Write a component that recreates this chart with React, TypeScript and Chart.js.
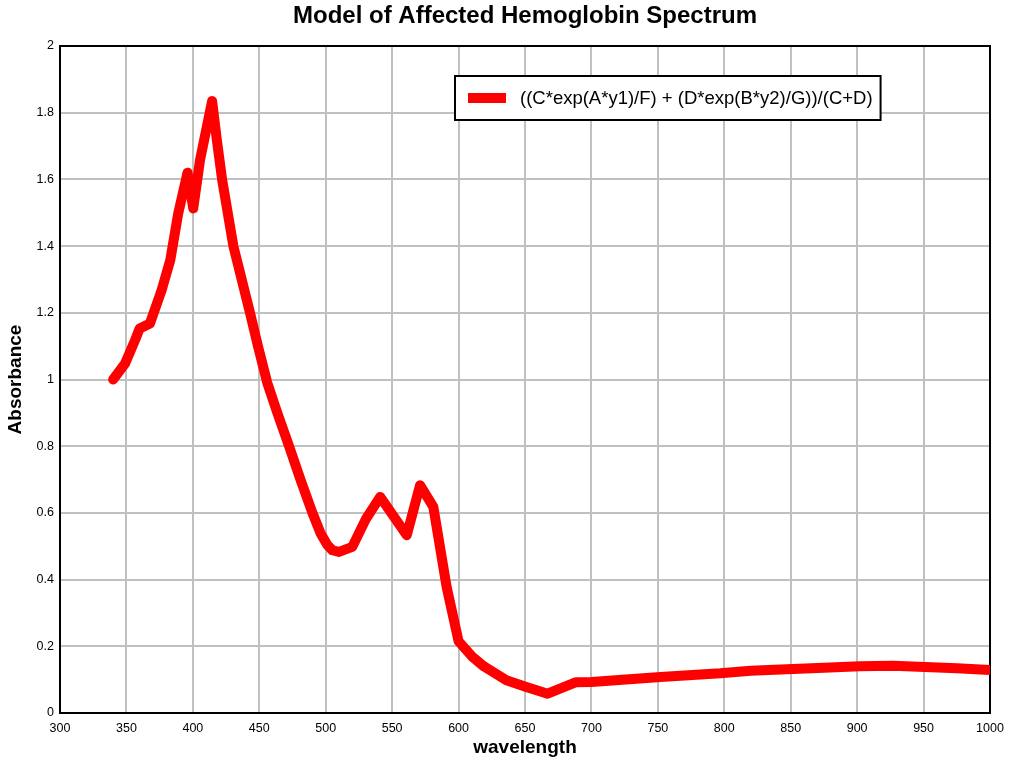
import React, { useEffect, useRef } from "react";
import { Chart, registerables } from "chart.js";

Chart.register(...registerables);

const chartTitle = "Model of Affected Hemoglobin Spectrum";
const xTitle = "wavelength";
const yTitle = "Absorbance";
const seriesLabel = "((C*exp(A*y1)/F) + (D*exp(B*y2)/G))/(C+D)";

const wavelengths = [
  340, 349, 356.5, 360, 367.7, 376.5, 383, 389, 396, 400.3, 405.4, 414.5, 418, 422, 430.5,
  443, 449, 456, 464, 472.4, 481, 490, 496, 501, 505, 510, 520, 530, 541, 561, 571, 581, 591,
  600, 610, 619, 636, 651, 667, 688, 700, 752, 797, 820, 847, 875, 902, 927, 951, 975, 1000,
];
const absorbance = [
  1.0, 1.048, 1.118, 1.153, 1.168, 1.268, 1.358, 1.498, 1.62, 1.513, 1.658, 1.835, 1.72,
  1.6, 1.4, 1.2, 1.1, 0.99, 0.895, 0.8, 0.7, 0.6, 0.54, 0.505, 0.488, 0.483, 0.498, 0.58,
  0.648, 0.533, 0.683, 0.618, 0.378, 0.215, 0.17, 0.14, 0.098, 0.078, 0.058, 0.092, 0.093,
  0.108, 0.119, 0.127, 0.131, 0.136, 0.14, 0.142, 0.138, 0.134, 0.129,
];

const FONT = "Arial, 'Liberation Sans', sans-serif";

const framePlugin = {
  id: "frame",
  beforeDatasetsDraw(chart: any) {
    const { ctx, chartArea: a } = chart;
    ctx.save();
    ctx.strokeStyle = "#000";
    ctx.lineWidth = 2;
    ctx.strokeRect(a.left, a.top, a.right - a.left, a.bottom - a.top);
    ctx.restore();
  },
};

const titlePlugin = {
  id: "customTitle",
  afterDraw(chart: any) {
    const { ctx, chartArea: a } = chart;
    ctx.save();
    ctx.font = `bold 24px ${FONT}`;
    ctx.fillStyle = "#000";
    ctx.textAlign = "center";
    ctx.textBaseline = "middle";
    ctx.fillText(chartTitle, (a.left + a.right) / 2, 16);
    ctx.restore();
  },
};

const legendBoxPlugin = {
  id: "legendBox",
  afterDatasetsDraw(chart: any) {
    const { ctx, chartArea: a } = chart;
    const ds = chart.data.datasets[0];
    ctx.save();
    ctx.font = `18.5px ${FONT}`;
    const tw = ctx.measureText(ds.label).width;
    const x = a.left + 395;
    const y = a.top + 30;
    const w = 65 + tw + 8;
    const h = 44;
    ctx.fillStyle = "#fff";
    ctx.fillRect(x, y, w, h);
    ctx.strokeStyle = "#000";
    ctx.lineWidth = 2;
    ctx.strokeRect(x, y, w, h);
    ctx.fillStyle = ds.borderColor;
    ctx.fillRect(x + 13, y + h / 2 - 5, 38, 10);
    ctx.fillStyle = "#000";
    ctx.textBaseline = "middle";
    ctx.textAlign = "left";
    ctx.fillText(ds.label, x + 65, y + h / 2 + 1);
    ctx.restore();
  },
};

export default function App() {
  const ref = useRef<HTMLCanvasElement>(null);
  useEffect(() => {
    document.body.style.margin = "0";
    const points = wavelengths.map((w, i) => ({ x: w, y: absorbance[i] }));
    const chart = new Chart(ref.current as HTMLCanvasElement, {
      type: "line",
      data: {
        datasets: [
          {
            label: seriesLabel,
            data: points,
            borderColor: "#ff0000",
            backgroundColor: "#ff0000",
            borderWidth: 10,
            borderJoinStyle: "round",
            borderCapStyle: "round",
            pointRadius: 0,
            tension: 0,
            fill: false,
          },
        ],
      },
      options: {
        animation: false,
        responsive: false,
        maintainAspectRatio: false,
        layout: { padding: { left: 0, right: 34, top: 46, bottom: 0 } },
        plugins: {
          legend: { display: false },
          tooltip: { enabled: false },
          title: { display: false },
        },
        scales: {
          x: {
            type: "linear",
            min: 300,
            max: 1000,
            ticks: {
              stepSize: 50,
              color: "#000",
              font: { family: FONT, size: 12.5 },
              padding: 8,
              maxRotation: 0,
              callback: (v: any) => String(v),
            },
            grid: { color: "#c0c0c0", lineWidth: 2, drawTicks: false },
            border: { color: "#000", width: 2 },
            title: {
              display: true,
              text: xTitle,
              color: "#000",
              font: { family: FONT, size: 19, weight: "bold" },
              padding: { top: 0, bottom: 9 },
            },
            afterFit(scale: any) {
              scale.height = 55;
            },
          },
          y: {
            min: 0,
            max: 2,
            ticks: {
              stepSize: 0.2,
              color: "#000",
              font: { family: FONT, size: 12.5 },
              padding: 6,
              callback: (v: any) => String(Math.round(v * 10) / 10),
            },
            grid: { color: "#c0c0c0", lineWidth: 2, drawTicks: false },
            border: { color: "#000", width: 2 },
            title: {
              display: true,
              text: yTitle,
              color: "#000",
              font: { family: FONT, size: 19, weight: "bold" },
              padding: { top: 4, bottom: 0 },
            },
            afterFit(scale: any) {
              scale.width = 60;
            },
          },
        },
      },
      plugins: [framePlugin, legendBoxPlugin, titlePlugin],
    });
    return () => chart.destroy();
  }, []);
  return (
    <div style={{ width: 1024, height: 768 }}>
      <canvas ref={ref} width={1024} height={768} style={{ display: "block" }} />
    </div>
  );
}
